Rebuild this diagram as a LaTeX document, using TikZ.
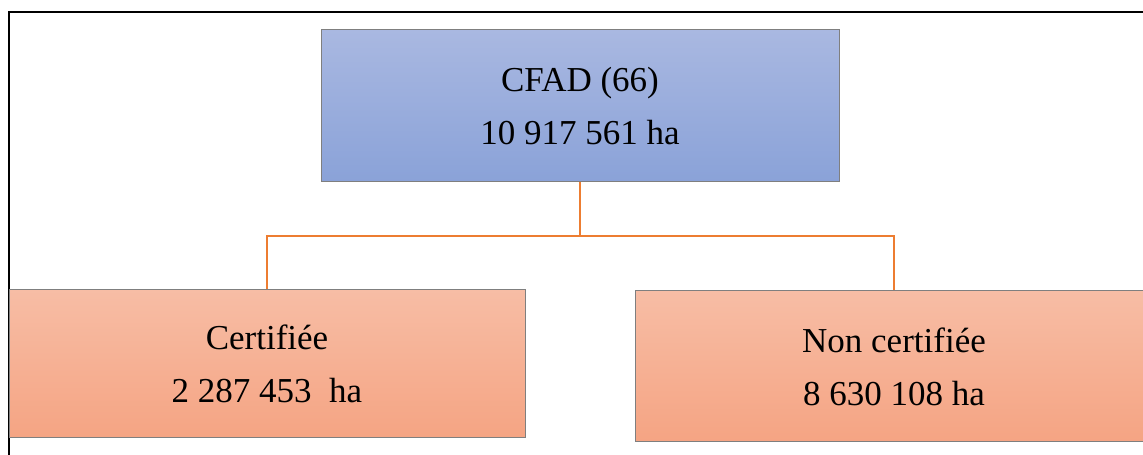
\documentclass[tikz,border=0pt]{standalone}
\usepackage{fontspec}
\setmainfont{Liberation Serif}
\definecolor{bluetop}{HTML}{A9B8E1}
\definecolor{bluebot}{HTML}{8AA2D8}
\definecolor{orgtop}{HTML}{F7BDA5}
\definecolor{orgbot}{HTML}{F5A483}
\definecolor{boxline}{HTML}{7F7F7F}
\definecolor{conncol}{HTML}{ED7D31}
\tikzset{
  orgbox/.style={draw=boxline, line width=1pt, align=center, inner sep=0pt,
    font=\fontsize{35}{53}\selectfont, text=black},
  bluebox/.style={orgbox, top color=bluetop, bottom color=bluebot},
  peachbox/.style={orgbox, top color=orgtop, bottom color=orgbot},
  conn/.style={draw=conncol, line width=2pt},
  frame/.style={draw=black, line width=2pt}
}
\begin{document}
\begin{tikzpicture}[x=1pt,y=1pt]
\useasboundingbox (0,0) rectangle (1143,455);
\begin{scope}
\clip (0,0) rectangle (1143,455);
\draw[frame] (8.5,-5) -- (8.5,442.5) -- (1160,442.5);
\node[bluebox, minimum width=518pt, minimum height=152pt] (top) at (580,349) {CFAD (66)\\10 917 561 ha};
\node[peachbox, minimum width=516pt, minimum height=148pt] (left) at (267,91) {Certifiée\\2 287 453\ \ ha};
\node[peachbox, minimum width=518pt, minimum height=151pt] (right) at (894,88.5) {Non certifiée\\8 630 108 ha};
\coordinate (j) at (580,219);
\draw[conn] (top.south) -- (j);
\draw[conn] (j) -| (left.north);
\draw[conn] (j) -| (right.north);
\end{scope}
\end{tikzpicture}
\end{document}
